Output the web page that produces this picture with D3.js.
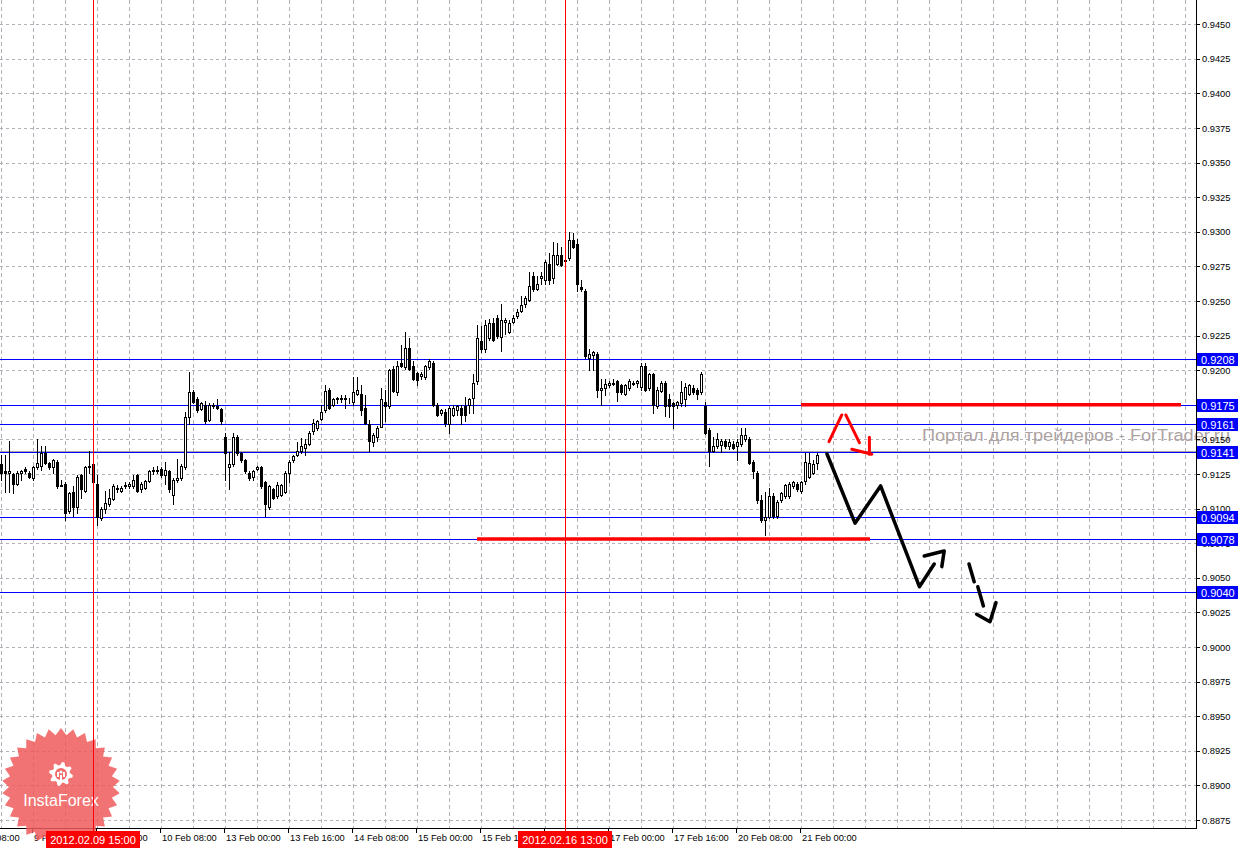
<!DOCTYPE html>
<html><head><meta charset="utf-8">
<script src="https://cdn.jsdelivr.net/npm/d3@7"></script>
<style>body{margin:0;background:#fff;overflow:hidden}svg{display:block}</style>
</head><body>
<svg id="chart" width="1238" height="848"></svg>
<script>
// ---------------- DATA (EUR/CHF-like H1 candles) ----------------
const opens=[0.9132,0.9127,0.9126,0.9125,0.9118,0.9126,0.9129,0.9126,0.9122,0.9130,
0.9131,0.9140,0.9133,0.9130,0.9134,0.9116,0.9118,0.9098,0.9112,0.9101,
0.9124,0.9113,0.9130,0.9132,0.9118,0.9093,0.9100,0.9103,0.9107,0.9114,
0.9113,0.9116,0.9116,0.9116,0.9124,0.9114,0.9115,0.9120,0.9127,0.9127,
0.9129,0.9124,0.9127,0.9110,0.9121,0.9122,0.9130,0.9166,0.9184,0.9179,
0.9172,0.9175,0.9164,0.9174,0.9174,0.9172,0.9152,0.9130,0.9132,0.9152,
0.9140,0.9135,0.9126,0.9123,0.9129,0.9130,0.9119,0.9101,0.9114,0.9109,
0.9110,0.9112,0.9126,0.9135,0.9139,0.9142,0.9144,0.9147,0.9156,0.9158,
0.9165,0.9171,0.9186,0.9175,0.9179,0.9179,0.9180,0.9179,0.9177,0.9183,
0.9183,0.9173,0.9161,0.9148,0.9152,0.9159,0.9177,0.9174,0.9201,0.9184,
0.9205,0.9202,0.9216,0.9203,0.9198,0.9196,0.9195,0.9202,0.9205,0.9175,
0.9169,0.9170,0.9161,0.9168,0.9171,0.9173,0.9174,0.9175,0.9180,0.9192,
0.9221,0.9215,0.9223,0.9234,0.9238,0.9224,0.9235,0.9228,0.9235,0.9239,
0.9243,0.9248,0.9251,0.9268,0.9259,0.9267,0.9265,0.9277,0.9267,0.9277,
0.9283,0.9279,0.9281,0.9294,0.9291,0.9260,0.9257,0.9209,0.9211,0.9212,
0.9186,0.9187,0.9189,0.9190,0.9192,0.9189,0.9183,0.9187,0.9190,0.9191,
0.9188,0.9203,0.9187,0.9197,0.9174,0.9185,0.9191,0.9179,0.9176,0.9175,
0.9176,0.9179,0.9183,0.9187,0.9186,0.9184,0.9174,0.9157,0.9142,0.9145,
0.9146,0.9149,0.9145,0.9147,0.9145,0.9147,0.9150,0.9150,0.9134,0.9126,
0.9106,0.9092,0.9094,0.9109,0.9095,0.9106,0.9109,0.9109,0.9116,0.9118,
0.9113,0.9120,0.9123,0.9126,0.9133];
const highs=[0.9139,0.9139,0.9149,0.9126,0.9127,0.9128,0.9130,0.9127,0.9131,0.9150,
0.9145,0.9145,0.9134,0.9136,0.9135,0.9121,0.9119,0.9112,0.9116,0.9124,
0.9125,0.9131,0.9142,0.9133,0.9124,0.9101,0.9113,0.9114,0.9118,0.9117,
0.9116,0.9119,0.9119,0.9124,0.9125,0.9119,0.9121,0.9128,0.9130,0.9131,
0.9130,0.9134,0.9128,0.9122,0.9136,0.9132,0.9170,0.9199,0.9186,0.9181,
0.9177,0.9178,0.9176,0.9176,0.9179,0.9173,0.9155,0.9141,0.9155,0.9153,
0.9141,0.9136,0.9127,0.9128,0.9131,0.9131,0.9120,0.9117,0.9115,0.9119,
0.9118,0.9127,0.9135,0.9139,0.9148,0.9151,0.9150,0.9156,0.9165,0.9164,
0.9175,0.9189,0.9187,0.9180,0.9181,0.9182,0.9182,0.9180,0.9195,0.9195,
0.9189,0.9182,0.9164,0.9155,0.9160,0.9187,0.9186,0.9201,0.9203,0.9207,
0.9218,0.9228,0.9223,0.9207,0.9199,0.9199,0.9204,0.9208,0.9207,0.9176,
0.9172,0.9172,0.9174,0.9175,0.9175,0.9175,0.9181,0.9180,0.9197,0.9233,
0.9232,0.9236,0.9237,0.9238,0.9240,0.9248,0.9238,0.9236,0.9240,0.9244,
0.9254,0.9254,0.9271,0.9271,0.9268,0.9271,0.9280,0.9285,0.9293,0.9292,
0.9289,0.9281,0.9300,0.9299,0.9295,0.9265,0.9259,0.9215,0.9214,0.9213,
0.9194,0.9194,0.9192,0.9194,0.9193,0.9190,0.9190,0.9194,0.9192,0.9193,
0.9205,0.9205,0.9198,0.9198,0.9188,0.9192,0.9192,0.9183,0.9177,0.9178,
0.9192,0.9191,0.9190,0.9189,0.9187,0.9199,0.9177,0.9158,0.9152,0.9155,
0.9150,0.9150,0.9150,0.9149,0.9150,0.9158,0.9158,0.9152,0.9135,0.9127,
0.9110,0.9112,0.9115,0.9111,0.9106,0.9112,0.9118,0.9119,0.9120,0.9119,
0.9120,0.9140,0.9140,0.9135,0.9140];
const lows=[0.9121,0.9112,0.9112,0.9111,0.9117,0.9121,0.9126,0.9122,0.9121,0.9129,
0.9128,0.9132,0.9129,0.9126,0.9115,0.9116,0.9092,0.9097,0.9095,0.9097,
0.9108,0.9112,0.9126,0.9118,0.9088,0.9092,0.9097,0.9102,0.9106,0.9112,
0.9112,0.9115,0.9115,0.9115,0.9112,0.9112,0.9114,0.9119,0.9125,0.9126,
0.9123,0.9118,0.9112,0.9103,0.9119,0.9121,0.9129,0.9161,0.9176,0.9170,
0.9171,0.9162,0.9163,0.9173,0.9172,0.9161,0.9121,0.9114,0.9131,0.9139,
0.9134,0.9126,0.9121,0.9121,0.9128,0.9115,0.9095,0.9100,0.9107,0.9108,
0.9109,0.9111,0.9119,0.9134,0.9138,0.9140,0.9139,0.9146,0.9154,0.9157,
0.9164,0.9170,0.9172,0.9174,0.9176,0.9177,0.9173,0.9176,0.9175,0.9182,
0.9168,0.9161,0.9142,0.9145,0.9149,0.9159,0.9163,0.9173,0.9184,0.9182,
0.9202,0.9201,0.9200,0.9193,0.9189,0.9194,0.9194,0.9201,0.9174,0.9167,
0.9168,0.9160,0.9155,0.9167,0.9168,0.9161,0.9163,0.9169,0.9169,0.9190,
0.9213,0.9213,0.9222,0.9221,0.9223,0.9214,0.9226,0.9227,0.9234,0.9238,
0.9242,0.9246,0.9250,0.9257,0.9258,0.9262,0.9262,0.9262,0.9263,0.9276,
0.9275,0.9278,0.9280,0.9288,0.9257,0.9257,0.9209,0.9200,0.9200,0.9181,
0.9175,0.9182,0.9188,0.9189,0.9178,0.9183,0.9182,0.9186,0.9189,0.9188,
0.9186,0.9185,0.9186,0.9169,0.9173,0.9184,0.9167,0.9166,0.9158,0.9173,
0.9174,0.9174,0.9182,0.9183,0.9179,0.9183,0.9154,0.9131,0.9141,0.9144,
0.9141,0.9144,0.9143,0.9143,0.9135,0.9145,0.9149,0.9132,0.9122,0.9104,
0.9090,0.9081,0.9093,0.9093,0.9093,0.9105,0.9108,0.9108,0.9115,0.9113,
0.9111,0.9118,0.9122,0.9125,0.9129];
const closes=[0.9126,0.9126,0.9127,0.9118,0.9126,0.9127,0.9127,0.9123,0.9130,0.9133,
0.9140,0.9133,0.9130,0.9135,0.9116,0.9117,0.9097,0.9111,0.9101,0.9123,
0.9114,0.9130,0.9131,0.9119,0.9094,0.9100,0.9104,0.9108,0.9116,0.9115,
0.9115,0.9117,0.9118,0.9121,0.9113,0.9118,0.9120,0.9127,0.9128,0.9128,
0.9124,0.9128,0.9114,0.9121,0.9122,0.9131,0.9166,0.9184,0.9177,0.9171,
0.9176,0.9163,0.9175,0.9175,0.9173,0.9163,0.9140,0.9132,0.9152,0.9140,
0.9135,0.9127,0.9122,0.9127,0.9130,0.9116,0.9103,0.9116,0.9108,0.9117,
0.9117,0.9126,0.9134,0.9138,0.9142,0.9145,0.9147,0.9155,0.9162,0.9163,
0.9170,0.9185,0.9173,0.9179,0.9180,0.9180,0.9179,0.9179,0.9184,0.9186,
0.9171,0.9162,0.9149,0.9153,0.9158,0.9179,0.9174,0.9200,0.9185,0.9203,
0.9203,0.9216,0.9201,0.9194,0.9193,0.9197,0.9203,0.9207,0.9175,0.9168,
0.9171,0.9162,0.9173,0.9173,0.9174,0.9168,0.9168,0.9179,0.9191,0.9223,
0.9215,0.9233,0.9234,0.9222,0.9225,0.9236,0.9236,0.9234,0.9238,0.9242,
0.9247,0.9252,0.9261,0.9259,0.9262,0.9268,0.9278,0.9265,0.9283,0.9283,
0.9276,0.9280,0.9294,0.9289,0.9262,0.9259,0.9210,0.9212,0.9213,0.9186,
0.9187,0.9190,0.9191,0.9191,0.9184,0.9184,0.9189,0.9192,0.9191,0.9192,
0.9203,0.9186,0.9197,0.9175,0.9186,0.9191,0.9174,0.9174,0.9174,0.9177,
0.9184,0.9188,0.9189,0.9184,0.9183,0.9197,0.9155,0.9142,0.9145,0.9150,
0.9149,0.9145,0.9148,0.9144,0.9148,0.9153,0.9153,0.9133,0.9127,0.9106,
0.9092,0.9094,0.9109,0.9095,0.9105,0.9111,0.9117,0.9118,0.9119,0.9114,
0.9119,0.9134,0.9133,0.9132,0.9139];

const priceTicks=[0.9450,0.9425,0.9400,0.9375,0.9350,0.9325,0.9300,0.9275,0.9250,0.9225,0.9200,0.9175,0.9150,0.9125,0.9100,0.9075,0.9050,0.9025,0.9000,0.8975,0.8950,0.8925,0.8900,0.8875];
const xTickIdx=[-8,8,24,40,56,72,88,104,120,136,152,168,184,200];
const xTickLabels=["8 Feb 08:00","9 Feb 00:00","9 Feb 16:00","10 Feb 08:00","13 Feb 00:00","13 Feb 16:00","14 Feb 08:00","15 Feb 00:00","15 Feb 16:00","16 Feb 08:00","17 Feb 00:00","17 Feb 16:00","20 Feb 08:00","21 Feb 00:00"];
const levels=[0.9208,0.9175,0.9161,0.9141,0.9094,0.9078,0.9040];
const vLineIdx=[23,141];
const vLineLabels=["2012.02.09 15:00","2012.02.16 13:00"];
const bidPrice=0.9142;
const redSegPrice=[0.9175,0.9078];
const redSegFrom=[200,119];
const redSegTo=[295,217.25];
// hand-drawn forecast (bar index, price)
const forecastMain=[[206.5,0.91395],[213.5,0.90895],[219.9,0.91164],[229.6,0.90436],[233.3,0.90600]];
const forecastHead=[[230.8,0.90658],[235.8,0.90694],[235.2,0.90581]];
const dashSeg1=[[242,0.90600],[243.3,0.90472]];
const dashSeg2=[[244.2,0.90436],[245.6,0.90297]];
const dashHead=[[243.9,0.90237],[247.25,0.90183],[248.75,0.90321]];
const redUpL=[[207,0.91484],[210.2,0.91677]];
const redUpR=[[211.2,0.91677],[214.6,0.91477]];
const redArrow=[[212.7,0.91429],[217.7,0.91393]];
const redArrowHead=[[217.1,0.91516],[217.1,0.91393]];
const watermark="Портал для трейдеров - ForTrader.ru";
const logoText="InstaForex";

// ---------------- LAYOUT ----------------
const W=1238,H=848, plotR=1196, plotB=828;
const svg=d3.select("#chart");
const x=d3.scaleLinear().domain([0,1]).range([1,5]);
const y=d3.scaleLinear().domain([0.8875,0.9450]).range([820,24.3]);
const font="'Liberation Sans', Arial, sans-serif";
const gridColor="#b4aeb8";

svg.append("rect").attr("width",W).attr("height",H).attr("fill","#fff");

// gridlines
const g=svg.append("g").attr("shape-rendering","crispEdges");
g.selectAll("line.hg").data(priceTicks).join("line")
  .attr("x1",0).attr("x2",plotR)
  .attr("y1",d=>Math.round(y(d))+0.5).attr("y2",d=>Math.round(y(d))+0.5)
  .attr("stroke",gridColor).attr("stroke-dasharray","3,3");
g.selectAll("line.vg").data(d3.range(0,297,8)).join("line")
  .attr("x1",d=>x(d)+0.5).attr("x2",d=>x(d)+0.5).attr("y1",0).attr("y2",plotB)
  .attr("stroke",gridColor).attr("stroke-dasharray","4,3");

// bid line
g.append("line").attr("x1",0).attr("x2",plotR)
  .attr("y1",Math.round(y(bidPrice))+0.5).attr("y2",Math.round(y(bidPrice))+0.5)
  .attr("stroke","#a8a8a8");

// level lines
g.selectAll("line.lv").data(levels).join("line")
  .attr("x1",0).attr("x2",plotR)
  .attr("y1",d=>Math.round(y(d))+0.5).attr("y2",d=>Math.round(y(d))+0.5)
  .attr("stroke","#0000ff");

// candles
const candles=d3.range(opens.length).map(i=>({i,o:opens[i],h:highs[i],l:lows[i],c:closes[i]}));
const cg=svg.append("g").attr("shape-rendering","crispEdges");
cg.selectAll("line.wick").data(candles).join("line")
  .attr("x1",d=>x(d.i)+0.5).attr("x2",d=>x(d.i)+0.5)
  .attr("y1",d=>Math.round(y(d.h))).attr("y2",d=>Math.round(y(d.l))+1)
  .attr("stroke","#000");
cg.selectAll("rect.body").data(candles).join("rect")
  .attr("x",d=>x(d.i)-1+0.5).attr("width",2)
  .attr("y",d=>Math.round(y(Math.max(d.o,d.c)))+0.5)
  .attr("height",d=>Math.round(y(Math.min(d.o,d.c)))-Math.round(y(Math.max(d.o,d.c))))
  .attr("fill",d=>d.c>=d.o?"#fff":"#000").attr("stroke","#000");

// red support/resistance segments
svg.append("g").selectAll("line").data(redSegPrice).join("line")
  .attr("x1",(d,k)=>x(redSegFrom[k])).attr("x2",(d,k)=>x(redSegTo[k]))
  .attr("y1",d=>y(d)).attr("y2",d=>y(d))
  .attr("stroke","#ff0000").attr("stroke-width",3.5);

// forecast drawings
const line=d3.line().x(d=>x(d[0])).y(d=>y(d[1]));
const fg=svg.append("g").attr("fill","none").attr("stroke-linecap","round").attr("stroke-linejoin","round");
[forecastMain,forecastHead,dashSeg1,dashSeg2,dashHead].forEach(p=>
  fg.append("path").attr("d",line(p)).attr("stroke","#000").attr("stroke-width",3.5));
[redUpL,redUpR,redArrow,redArrowHead].forEach(p=>
  fg.append("path").attr("d",line(p)).attr("stroke","#ff0000").attr("stroke-width",3));

// watermark
svg.append("text").attr("x",922).attr("y",441).attr("font-family",font).attr("font-size",16)
  .attr("fill","#ada3a3").attr("textLength",308).attr("lengthAdjust","spacingAndGlyphs").text(watermark);

// axes
const ax=svg.append("g").attr("shape-rendering","crispEdges");
ax.append("line").attr("x1",plotR+0.5).attr("x2",plotR+0.5).attr("y1",0).attr("y2",plotB+1).attr("stroke","#000");
ax.append("line").attr("x1",0).attr("x2",plotR+1).attr("y1",plotB+0.5).attr("y2",plotB+0.5).attr("stroke","#000");
ax.selectAll("line.rt").data(priceTicks).join("line")
  .attr("x1",plotR).attr("x2",plotR+4).attr("y1",d=>Math.round(y(d))+0.5).attr("y2",d=>Math.round(y(d))+0.5).attr("stroke","#000");
ax.selectAll("line.bt").data(xTickIdx).join("line")
  .attr("x1",d=>x(d)-0.5).attr("x2",d=>x(d)-0.5).attr("y1",plotB).attr("y2",plotB+5).attr("stroke","#000");
svg.append("g").selectAll("text").data(priceTicks).join("text")
  .attr("x",1202).attr("y",d=>y(d)+3.5).attr("font-family",font).attr("font-size",9.3).attr("fill","#000")
  .text(d=>d.toFixed(4));
svg.append("g").selectAll("text").data(xTickIdx).join("text")
  .attr("x",d=>x(d)+1).attr("y",841).attr("font-family",font).attr("font-size",9.3).attr("fill","#000")
  .text((d,k)=>xTickLabels[k]);

// InstaForex logo
const lg=svg.append("g").attr("transform","translate(61,787)");
const pts=[];const n=30;
for(let k=0;k<2*n;k++){const r=k%2?52:59;const a=k*Math.PI/n-Math.PI/2;pts.push([r*Math.cos(a),r*Math.sin(a)]);}
lg.append("path").attr("d","M"+pts.map(p=>p.join(",")).join("L")+"Z").attr("fill","#f05a5a").attr("opacity",0.85);
// gear icon
const gear=[];const nt=8;
for(let k=0;k<nt*4;k++){const r=(Math.floor(k/2)%2)?9:12;const a=k*Math.PI/(nt*2)-Math.PI/2+Math.PI/(nt*4);gear.push([r*Math.cos(a),r*Math.sin(a)]);}
const gg=lg.append("g").attr("transform","translate(0,-13)");
gg.append("path").attr("d","M"+gear.map(p=>p.join(",")).join("L")+"Z").attr("fill","#fff");
gg.append("circle").attr("r",6).attr("fill","#f26a6a");
gg.append("path").attr("d","M-3,-2 L-3,3 M3,-2 L3,3 M0,1 L0,8").attr("stroke","#fff").attr("stroke-width",2);
gg.append("circle").attr("cy",-2).attr("r",1.6).attr("fill","#fff");
lg.append("text").attr("x",0).attr("y",19).attr("text-anchor","middle").attr("font-family",font)
  .attr("font-size",16).attr("fill","#fff").text(logoText);

// vertical red lines & labels
const vg=svg.append("g");
vg.selectAll("line").data(vLineIdx).join("line").attr("shape-rendering","crispEdges")
  .attr("x1",d=>x(d)+0.5).attr("x2",d=>x(d)+0.5).attr("y1",0).attr("y2",plotB+3).attr("stroke","#ff0000");
vg.selectAll("rect").data(vLineIdx).join("rect")
  .attr("x",d=>x(d)-47).attr("y",831).attr("width",94).attr("height",17).attr("fill","#ff0000");
vg.selectAll("text").data(vLineIdx).join("text")
  .attr("x",d=>x(d)).attr("y",844).attr("text-anchor","middle").attr("font-family",font)
  .attr("font-size",11).attr("fill","#fff").text((d,k)=>vLineLabels[k]);

// level price boxes
const bg=svg.append("g");
bg.selectAll("rect").data(levels).join("rect")
  .attr("x",1197).attr("y",d=>Math.round(y(d))-6).attr("width",41).attr("height",13).attr("fill","#0000ff");
bg.selectAll("text").data(levels).join("text")
  .attr("x",1201).attr("y",d=>Math.round(y(d))+4.5).attr("font-family",font).attr("font-size",11)
  .attr("fill","#fff").text(d=>d.toFixed(4));
</script>
</body></html>
